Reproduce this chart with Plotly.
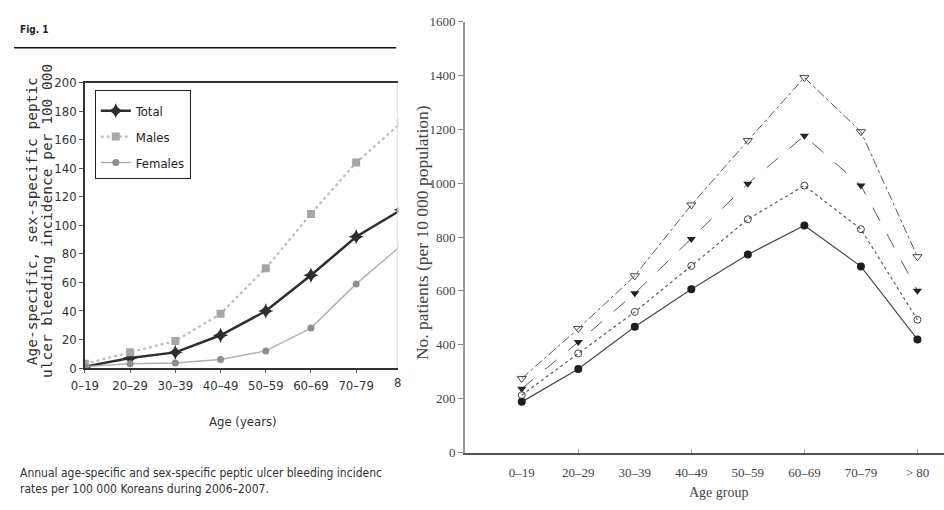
import plotly.graph_objects as go

W, H = 944, 510
def px(x): return x / W
def py(y): return 1 - y / H

# ---------------- data ----------------
left_categories = ["0–19", "20–29", "30–39", "40–49", "50–59", "60–69", "70–79", "80+"]
total = [1, 7, 11, 23, 40, 65, 92, 111]
males = [3, 11, 19, 38, 70, 108, 144, 172]
females = [1, 3, 3.5, 6, 12, 28, 59, 86]
left_yticks = [0, 20, 40, 60, 80, 100, 120, 140, 160, 180, 200]

right_categories = ["0–19", "20–29", "30–39", "40–49", "50–59", "60–69", "70–79", "> 80"]
series_filled_circle = [188, 310, 467, 606, 735, 843, 691, 420]
series_open_circle = [213, 368, 522, 693, 866, 991, 829, 493]
series_filled_tri = [237, 410, 591, 793, 998, 1176, 991, 601]
series_open_tri = [275, 460, 656, 919, 1158, 1392, 1191, 727]
right_yticks = [0, 200, 400, 600, 800, 1000, 1200, 1400, 1600]
right_minor_ticks = ["20–29", "40–49", "60–69", "> 80"]

SANS = "Liberation Sans Narrow, DejaVu Sans Condensed, Liberation Sans, Arial"
SANS_SPACED = "DejaVu Sans Mono, Liberation Mono, monospace"
SERIF = "Liberation Serif, Times New Roman, serif"

fig = go.Figure()

# ---------------- left chart ----------------
fig.add_trace(go.Scatter(
    x=left_categories, y=total, name="Total", mode="lines+markers", legendgroup="t",
    line=dict(color="#2e2e2e", width=2.5),
    marker=dict(symbol="star-diamond", size=11, color="#2e2e2e"),
    xaxis="x", yaxis="y"))
fig.add_trace(go.Scatter(
    x=left_categories, y=males, name="Males", mode="lines+markers", legendgroup="m",
    line=dict(color="#bdbdbd", width=2.2, dash="dot"),
    marker=dict(symbol="square", size=8, color="#a6a6a6"),
    xaxis="x", yaxis="y"))
fig.add_trace(go.Scatter(
    x=left_categories, y=females, name="Females", mode="lines+markers", legendgroup="f",
    line=dict(color="#b0b0b0", width=1.4),
    marker=dict(symbol="circle", size=7, color="#8e8e8e"),
    xaxis="x", yaxis="y"))

# ---------------- right chart ----------------
fig.add_trace(go.Scatter(
    x=right_categories, y=series_open_tri, mode="lines+markers", showlegend=False,
    line=dict(color="#5a5a5a", width=1, dash="dashdot"),
    marker=dict(symbol="triangle-down-open", size=8, color="#444", line=dict(width=1)),
    xaxis="x2", yaxis="y2"))
fig.add_trace(go.Scatter(
    x=right_categories, y=series_filled_tri, mode="lines+markers", showlegend=False,
    line=dict(color="#5a5a5a", width=1, dash="longdash"),
    marker=dict(symbol="triangle-down", size=8, color="#222"),
    xaxis="x2", yaxis="y2"))
fig.add_trace(go.Scatter(
    x=right_categories, y=series_open_circle, mode="lines+markers", showlegend=False,
    line=dict(color="#5a5a5a", width=1.2, dash="dot"),
    marker=dict(symbol="circle-open", size=7, color="#444", line=dict(width=1)),
    xaxis="x2", yaxis="y2"))
fig.add_trace(go.Scatter(
    x=right_categories, y=series_filled_circle, mode="lines+markers", showlegend=False,
    line=dict(color="#4a4a4a", width=1.2),
    marker=dict(symbol="circle", size=8, color="#1e1e1e"),
    xaxis="x2", yaxis="y2"))
# carrier for the overlaid minor-tick axis
fig.add_trace(go.Scatter(x=right_categories, y=[None] * len(right_categories),
                         mode="lines", showlegend=False, hoverinfo="skip",
                         xaxis="x3", yaxis="y2"))

fig.update_layout(
    width=W, height=H, autosize=False,
    margin=dict(l=0, r=0, t=0, b=0),
    paper_bgcolor="white", plot_bgcolor="white",
    showlegend=True,
    legend=dict(x=px(82), y=py(85), xanchor="left", yanchor="top",
                bgcolor="white", bordercolor="#222", borderwidth=1,
                font=dict(family=SANS, size=13, color="#222"),
                title=dict(text=" ", font=dict(size=4)),
                itemwidth=30, tracegroupgap=6),
    xaxis=dict(domain=[px(72), px(390)], type="category",
               categoryorder="array", categoryarray=left_categories,
               range=[0, 6.93], showgrid=False, zeroline=False,
               showline=True, linecolor="#333", linewidth=1.5, mirror=True,
               ticks="outside", ticklen=3, tickcolor="#555",
               ticklabelstandoff=2,
               tickfont=dict(family=SANS, size=13, color="#333")),
    yaxis=dict(domain=[py(372), py(78)], range=[0, 200],
               tickvals=left_yticks, showgrid=False, zeroline=False,
               showline=True, linecolor="#333", linewidth=1.5,
               ticks="outside", ticklen=4, tickcolor="#555",
               tickfont=dict(family=SANS, size=13, color="#333")),
    xaxis2=dict(domain=[px(458), 1.0], type="category",
                categoryorder="array", categoryarray=right_categories,
                range=[-1, 7.47], showgrid=False, zeroline=False,
                showline=True, linecolor="#555", linewidth=1.5,
                ticks="", anchor="y2", ticklabelstandoff=7,
                tickfont=dict(family=SERIF, size=13, color="#444")),
    xaxis3=dict(domain=[px(458), 1.0], type="category", overlaying="x2",
                categoryorder="array", categoryarray=right_categories,
                range=[-1, 7.47], anchor="y2", showgrid=False, zeroline=False,
                showline=False, tickmode="array", tickvals=right_minor_ticks,
                ticks="inside", ticklen=4, tickcolor="#aaa",
                showticklabels=False),
    yaxis2=dict(domain=[py(459), py(15)], range=[0, 1600], anchor="x2",
                tickvals=right_yticks, showgrid=False, zeroline=False,
                showline=True, linecolor="#999", linewidth=2,
                ticks="outside", ticklen=5, tickcolor="#888",
                tickfont=dict(family=SERIF, size=13, color="#444")),
)

# header rule and faint right edge of the left panel frame
fig.add_shape(type="line", xref="paper", yref="paper",
              x0=0, x1=px(388), y0=py(42), y1=py(42),
              line=dict(color="#111", width=1.5))
fig.add_shape(type="line", xref="paper", yref="paper",
              x0=px(389), x1=px(389), y0=py(372), y1=py(78),
              line=dict(color="#dddddd", width=1))

ann = []
ann.append(dict(text="<b>Fig. 1</b>", x=px(4), y=py(23), xanchor="left", yanchor="middle",
                font=dict(family=SANS, size=10, color="#222")))
ann.append(dict(text="Age-specific, sex-specific peptic", x=px(18), y=py(221), textangle=-90,
                xanchor="center", yanchor="middle",
                font=dict(family=SANS_SPACED, size=14.5, color="#333")))
ann.append(dict(text="ulcer bleeding incidence per 100 000", x=px(33), y=py(221), textangle=-90,
                xanchor="center", yanchor="middle",
                font=dict(family=SANS_SPACED, size=14.5, color="#333")))
ann.append(dict(text="8", x=px(384), y=py(387), xanchor="left", yanchor="middle",
                font=dict(family=SANS, size=13, color="#333")))
ann.append(dict(text="Age (years)", x=px(232), y=py(427), xanchor="center", yanchor="middle",
                font=dict(family=SANS, size=13, color="#333")))
ann.append(dict(text="Annual age-specific and sex-specific peptic ulcer bleeding incidenc",
                x=px(4), y=py(480), xanchor="left", yanchor="middle",
                font=dict(family=SANS, size=12, color="#333")))
ann.append(dict(text="rates per 100 000 Koreans during 2006–2007.",
                x=px(4), y=py(497), xanchor="left", yanchor="middle",
                font=dict(family=SANS, size=12, color="#333")))
ann.append(dict(text="No. patients (per 10 000 population)", x=px(414), y=py(232), textangle=-90,
                xanchor="center", yanchor="middle",
                font=dict(family=SERIF, size=17.5, color="#444")))
ann.append(dict(text="Age group", x=px(716), y=py(500), xanchor="center", yanchor="middle",
                font=dict(family=SERIF, size=14, color="#444")))
for a in ann:
    a.update(xref="paper", yref="paper", showarrow=False)
fig.update_layout(annotations=ann)

fig.write_html("out.html", config={"displayModeBar": False},
               post_script="document.body.style.margin='0';document.body.style.overflow='hidden';")
